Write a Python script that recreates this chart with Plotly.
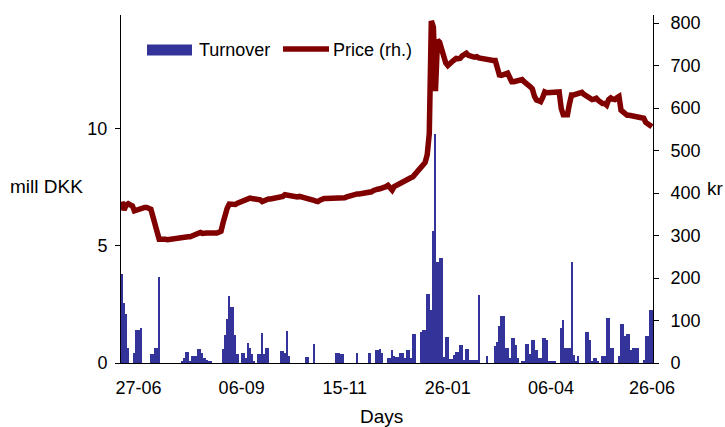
import plotly.graph_objects as go

# Daily turnover (mill DKK), one value per trading day
turnover = [
    3.8, 2.56, 2.1, 0.64, 0, 0, 0.43, 1.4, 1.4, 1.48,
    0, 0, 0, 0, 0.38, 0.38, 0.64, 0.64, 3.69, 0,
    0, 0, 0, 0, 0, 0, 0, 0, 0, 0.1,
    0.2, 0.47, 0.47, 0.1, 0.3, 0.3, 0.3, 0.6, 0.6, 0.44,
    0.2, 0.13, 0.1, 0.1, 0, 0, 0, 0, 0, 0.6,
    1.2, 1.9, 2.85, 2.4, 2.4, 1.2, 0.4, 0, 0.44, 0.44,
    0.2, 0.87, 0.65, 0.38, 0.1, 0, 0.38, 0.38, 1.3, 0.38,
    0.65, 0.65, 0, 0, 0, 0, 0, 0.5, 0.5, 0.44,
    1.38, 0.3, 0, 0, 0, 0, 0, 0, 0, 0.27,
    0.27, 0, 0, 0.8, 0, 0, 0, 0, 0, 0,
    0, 0, 0, 0, 0.44, 0.44, 0.37, 0.37, 0, 0,
    0, 0, 0, 0, 0.44, 0, 0, 0, 0, 0,
    0.44, 0, 0, 0.56, 0.56, 0.6, 0.44, 0, 0, 0.2,
    0.2, 0.55, 0.3, 0.25, 0.25, 0.43, 0.43, 0.2, 0.55, 0.55,
    0.2, 1.22, 1.22, 0, 0, 1.31, 1.4, 1.4, 2.95, 2.95,
    2.26, 5.65, 9.77, 4.33, 4.47, 4.47, 0.27, 1.12, 1.12, 0.17,
    0.17, 0.36, 0.46, 0.46, 0.78, 0.78, 0.14, 0.61, 0.61, 0.11,
    0.11, 0.11, 0.11, 2.92, 0, 0, 0, 0.28, 0, 0,
    0, 0.71, 0.9, 1.57, 2.0, 2.0, 0.64, 0.64, 0.2, 1.07,
    1.07, 0.78, 0.2, 0, 0.1, 0.1, 0.81, 0.81, 0.38, 1.0,
    1.0, 0.57, 0.2, 0.2, 1.07, 1.07, 1.0, 0.1, 0.1, 0.1,
    0.1, 0, 0, 1.5, 1.82, 0.64, 0.64, 0.64, 4.32, 0.36,
    0.07, 0.28, 0, 0, 0, 1.31, 1.31, 0.97, 0.1, 0.2,
    0.2, 0.1, 0, 0.28, 0.28, 1.92, 1.92, 0.64, 0.64, 0,
    0, 0.28, 1.67, 1.67, 1.17, 1.24, 1.24, 0.57, 0.64, 0.64,
    0.64, 0, 0, 0.14, 1.17, 1.17, 2.28, 2.28,
]

# Daily closing price (kr), right-hand axis
price = [
    380, 360, 372, 375, 372, 370, 358, 360, 360, 364,
    366, 366, 366, 365, 362, 344, 329, 305, 291, 291,
    292, 291, 290, 291, 292, 291, 291, 292, 294, 295,
    296, 297, 297, 297, 299, 301, 305, 308, 307, 305,
    304, 306, 306, 305, 306, 306, 306, 307, 310, 330,
    350, 364, 374, 374, 371, 373, 376, 378, 381, 385,
    386, 387, 388, 387, 387, 386, 386, 384, 380, 383,
    385, 386, 386, 387, 387, 387, 388, 388, 392, 396,
    395, 393, 392, 391, 391, 391, 392, 391, 391, 390,
    389, 388, 386, 383, 381, 380, 383, 386, 387, 387,
    387, 387, 388, 387, 387, 388, 388, 388, 389, 391,
    393, 394, 396, 398, 398, 398, 399, 398, 398, 399,
    400, 403, 406, 409, 409, 410, 411, 413, 415, 418,
    412, 407, 415, 418, 420, 422, 425, 427, 430, 434,
    436, 438, 443, 448, 453, 458, 465, 472, 490, 540,
    805, 790, 640, 760, 755, 735, 722, 706, 700, 703,
    709, 713, 717, 716, 717, 723, 728, 729, 724, 721,
    721, 720, 721, 718, 717, 714, 713, 713, 713, 713,
    712, 712, 693, 678, 677, 678, 680, 682, 672, 662,
    662, 663, 664, 666, 667, 662, 656, 654, 650, 645,
    628, 619, 617, 615, 625, 638, 636, 636, 637, 637,
    637, 639, 638, 599, 584, 584, 584, 610, 631, 631,
    632, 635, 637, 637, 632, 629, 625, 620, 620, 621,
    623, 618, 612, 611, 611, 607, 620, 624, 621, 620,
    624, 627, 595, 590, 584, 583, 583, 582, 582, 579,
    577, 577, 576, 576, 566, 562, 560, 556,
]

tick_days = [8, 58, 108, 158, 208, 257]
tick_labels = ["27-06", "06-09", "15-11", "26-01", "06-04", "26-06"]
left_ticks = [0, 5, 10]
right_ticks = [0, 100, 200, 300, 400, 500, 600, 700, 800]

days = list(range(len(turnover)))

BLUE = "#333399"
RED = "#800000"
FONT = "Liberation Sans, Arial, sans-serif"
FS = 18

W, H = 725, 427
# plot area in page pixels: x 121..653, y 15..363
L, R, T, B = 121, 725 - 653, 15, 427 - 363
pw, ph = 653 - 121, 363 - 15


def px(x):
    return (x - 121) / pw


def py(y):
    return (363 - y) / ph


fig = go.Figure()
fig.add_trace(go.Bar(x=days, y=turnover, name="Turnover",
                     marker=dict(color=BLUE, line=dict(width=0)), yaxis="y"))
fig.add_trace(go.Scatter(x=days, y=price, name="Price (rh.)", mode="lines",
                         line=dict(color=RED, width=5.5), yaxis="y2"))

fig.update_layout(
    width=W, height=H,
    margin=dict(l=L, r=R, t=T, b=B, autoexpand=False),
    paper_bgcolor="white", plot_bgcolor="white",
    showlegend=False, bargap=0,
    font=dict(family=FONT, size=FS, color="black"),
    xaxis=dict(range=[-0.5, len(turnover) - 0.5], tickvals=tick_days, ticktext=tick_labels,
               showline=True, linecolor="black", linewidth=1, ticks="",
               showgrid=False, zeroline=False, ticklabelstandoff=8, automargin=False,
               tickfont=dict(size=FS)),
    yaxis=dict(range=[0, 14.87], tickvals=left_ticks, showline=True, linecolor="black",
               linewidth=1, ticks="outside", ticklen=5, tickcolor="black", automargin=False,
               showgrid=False, zeroline=False, tickfont=dict(size=FS), ticklabelstandoff=4),
    yaxis2=dict(range=[0, 819], tickvals=right_ticks, overlaying="y", side="right",
                showline=True, linecolor="black", linewidth=1, ticks="outside", ticklen=5,
                tickcolor="black", showgrid=False, zeroline=False, tickfont=dict(size=FS),
                ticklabelstandoff=8, automargin=False),
    shapes=[
        dict(type="rect", xref="paper", yref="paper", x0=px(147), x1=px(192),
             y0=py(55.5), y1=py(44.5), fillcolor=BLUE, line=dict(width=0)),
        dict(type="line", xref="paper", yref="paper", x0=px(283), x1=px(329),
             y0=py(49), y1=py(49), line=dict(color=RED, width=5.5)),
    ],
    annotations=[
        dict(text="Turnover", xref="paper", yref="paper", x=px(197), y=py(50),
             xanchor="left", yanchor="middle", showarrow=False, font=dict(size=18)),
        dict(text="Price (rh.)", xref="paper", yref="paper", x=px(331), y=py(50),
             xanchor="left", yanchor="middle", showarrow=False, font=dict(size=18)),
        dict(text="mill DKK", xref="paper", yref="paper", x=px(46), y=py(187),
             xanchor="center", yanchor="middle", showarrow=False, font=dict(size=19)),
        dict(text="kr", xref="paper", yref="paper", x=px(705), y=py(188),
             xanchor="left", yanchor="middle", showarrow=False, font=dict(size=19)),
        dict(text="Days", xref="paper", yref="paper", x=px(381), y=py(416),
             xanchor="center", yanchor="middle", showarrow=False, font=dict(size=19)),
    ],
)

fig.write_html("out.html",
               config={"displayModeBar": False, "staticPlot": True},
               post_script="document.body.style.margin='0';document.body.style.overflow='hidden';")
